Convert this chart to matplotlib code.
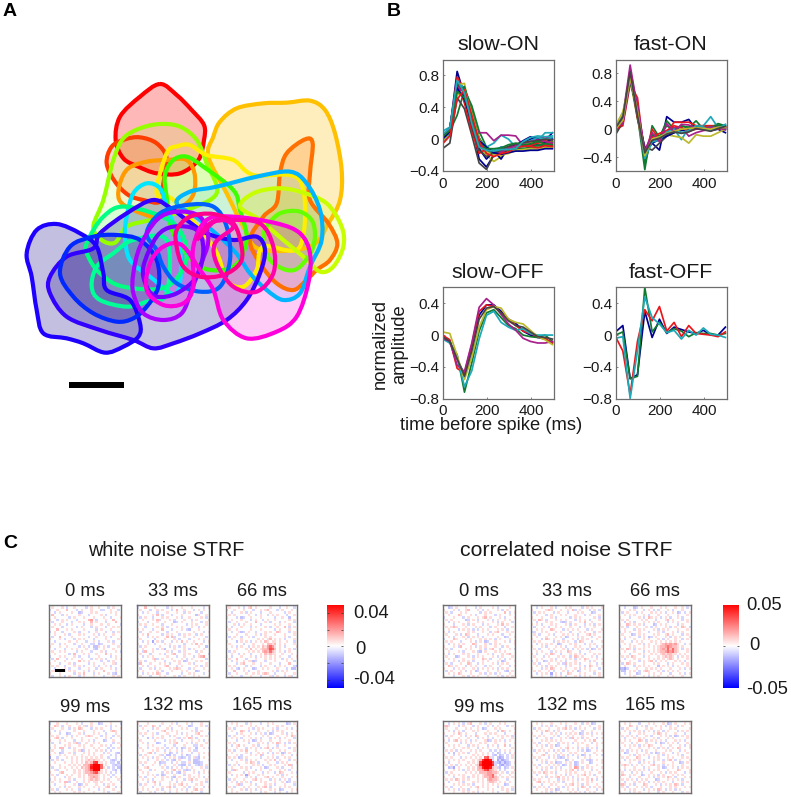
import matplotlib
matplotlib.use("Agg")
import numpy as np
import matplotlib.pyplot as plt
from matplotlib.path import Path
from matplotlib.patches import PathPatch, Rectangle
from matplotlib.colors import LinearSegmentedColormap, to_rgba

W, H = 791, 797
plt.rcParams['font.family'] = ['Liberation Sans', 'DejaVu Sans']

# receptive field outlines (3x pixel coords of the panel)
RF_COLORS = ['#ff0000', '#ff3c00', '#ffc000', '#ff7000', '#96ff00', '#ff9a00', '#ffee00', '#3cff00',
             '#c8ff00', '#64ff00', '#00b4ff', '#00e6ff', '#00ff82', '#00ff96', '#3200ff', '#1e00ff',
             '#0028ff', '#0060ff', '#aa00ff', '#7800ff', '#ff00dc', '#ff008c', '#ff00aa']
RF_FILLS = [.28, .2, .26, .22, .13, .1, .08, .1,
            .2, .22, .13, .05, .1, .15, .26, .28,
            .32, .05, .12, .08, .2, .04, .04]
RF_DARK = [False] * 14 + [True, True, True] + [False] * 6
RF_0 = [(480, 72), (530, 105), (575, 150), (612, 195), (612, 240), (595, 300), (540, 340), (470, 340), (415, 320),
        (370, 295), (347, 240), (360, 170), (420, 110)]
RF_1 = [(420, 232), (470, 250), (500, 295), (490, 370), (480, 425), (430, 420), (385, 405), (345, 365), (320, 310),
        (335, 260), (375, 238)]
RF_2 = [(640, 230), (660, 185), (710, 145), (790, 130), (860, 128), (930, 122), (975, 150), (1005, 220), (1025, 330),
        (1020, 420), (985, 490), (930, 560), (780, 568), (730, 500), (680, 400), (625, 290)]
RF_3 = [(915, 238), (938, 250), (930, 340), (930, 420), (985, 490), (1012, 550), (990, 600), (950, 630), (920, 660),
        (880, 690), (830, 670), (780, 610), (750, 540), (790, 470), (830, 430), (840, 340), (860, 280)]
RF_4 = [(480, 192), (540, 200), (590, 240), (620, 310), (650, 400), (560, 450), (450, 480), (380, 500), (345, 548),
        (305, 540), (280, 500), (310, 420), (340, 300), (370, 235), (420, 205)]
RF_5 = [(440, 305), (500, 300), (560, 300), (585, 350), (570, 420), (480, 470), (400, 450), (358, 420), (360, 370),
        (385, 325)]
RF_6 = [(570, 255), (620, 285), (700, 300), (760, 345), (900, 362), (900, 560), (790, 560), (770, 630), (730, 680),
        (680, 660), (640, 560), (520, 420), (470, 400), (500, 280), (535, 258)]
RF_7 = [(560, 290), (610, 320), (700, 390), (720, 450), (740, 540), (700, 620), (600, 620), (520, 520), (500, 410),
        (495, 345), (520, 300)]
RF_8 = [(720, 440), (760, 400), (830, 385), (900, 395), (980, 430), (1025, 500), (1030, 560), (1000, 620), (960, 635),
        (910, 590), (850, 540), (780, 480)]
RF_9 = [(800, 500), (840, 460), (900, 455), (940, 490), (940, 560), (900, 620), (860, 630), (810, 600), (790, 540)]
RF_10 = [(530, 430), (570, 395), (650, 380), (770, 350), (870, 335), (920, 370), (960, 450), (965, 540), (930, 620),
         (900, 700), (850, 720), (800, 690), (750, 640), (700, 570), (600, 480)]
RF_11 = [(380, 470), (400, 400), (440, 370), (480, 385), (500, 440), (540, 560), (530, 700), (450, 650), (390, 600),
         (375, 530)]
RF_12 = [(260, 550), (310, 470), (380, 440), (520, 490), (560, 590), (500, 680), (370, 680), (300, 640), (265, 590)]
RF_13 = [(275, 680), (290, 620), (340, 580), (400, 540), (500, 540), (500, 700), (440, 725), (380, 740), (300, 720)]
RF_14 = [(150, 650), (200, 590), (280, 565), (300, 520), (380, 460), (460, 420), (520, 450), (560, 480), (620, 520),
         (700, 540), (770, 530), (795, 570), (780, 640), (740, 720), (680, 780), (600, 820), (520, 850), (460, 865),
         (400, 840), (300, 810), (200, 770), (150, 700)]
RF_15 = [(80, 580), (110, 510), (170, 492), (240, 520), (290, 560), (310, 640), (320, 690), (390, 720), (420, 790),
         (415, 830), (370, 860), (315, 878), (250, 850), (200, 835), (130, 820), (110, 750), (95, 650)]
RF_16 = [(180, 640), (210, 560), (280, 530), (350, 525), (420, 540), (470, 600), (475, 680), (440, 740), (400, 775),
         (350, 785), (280, 760), (220, 710)]
RF_17 = [(440, 520), (480, 460), (560, 435), (640, 440), (680, 500), (690, 600), (660, 680), (600, 695), (530, 670),
         (490, 620), (470, 570)]
RF_18 = [(400, 640), (420, 560), (470, 480), (530, 455), (600, 470), (625, 540), (600, 620), (575, 690), (545, 760),
         (490, 780), (430, 760), (400, 700)]
RF_19 = [(430, 620), (470, 530), (520, 500), (590, 510), (610, 570), (590, 650), (530, 700), (470, 710), (440, 680)]
RF_20 = [(450, 610), (490, 560), (545, 555), (600, 630), (640, 690), (670, 780), (740, 835), (830, 815), (890, 770),
         (925, 670), (930, 580), (900, 520), (830, 490), (700, 470), (620, 480), (580, 560), (580, 680), (550, 730),
         (490, 735), (440, 690)]
RF_21 = [(530, 560), (530, 510), (570, 470), (640, 462), (700, 490), (725, 560), (720, 610), (670, 645), (600, 650),
         (550, 620)]
RF_22 = [(590, 540), (630, 490), (690, 480), (780, 490), (820, 560), (820, 640), (770, 695), (700, 680), (650, 610),
         (645, 550), (700, 500), (650, 480)]
RF_OUTLINES = [RF_0, RF_1, RF_2, RF_3, RF_4, RF_5, RF_6, RF_7, RF_8, RF_9, RF_10, RF_11,
               RF_12, RF_13, RF_14, RF_15, RF_16, RF_17, RF_18, RF_19, RF_20, RF_21, RF_22]

# temporal filters, one value per 33 ms frame
TIME = [0, 33, 66, 99, 132, 165, 198, 231, 264, 297, 330, 363, 396, 429, 462, 495]
LINE_COLORS = ['#00008f', '#107a30', '#e8171c', '#1ea8b8', '#a8208c', '#bcb92c', '#444444']

SLOW_ON = [
    [.03, .12, .85, .55, .2, -.25, -.35, -.2, -.1, -.12, -.1, -.05, .0, .02, -.02, .08],
    [-.02, .1, .3, .62, .42, .1, -.1, -.15, -.16, -.14, -.12, -.12, -.12, -.1, -.1, -.08],
    [.02, .12, .78, .6, .25, -.05, -.15, -.2, -.18, -.15, -.1, -.08, -.07, -.05, -.04, -.03],
    [.1, .15, .7, .65, .3, .0, -.1, -.05, .05, .0, -.1, -.1, -.05, -.02, .08, .08],
    [.05, .12, .6, .65, .2, .08, .08, -.02, .05, .05, .04, -.08, -.05, .0, .03, .0],
    [.0, .1, .68, .7, .18, -.1, -.2, -.28, -.22, -.15, -.1, -.07, -.04, -.02, -.01, -.02],
    [-.12, -.05, .52, .38, .05, -.3, -.38, -.2, -.15, -.12, -.1, -.08, -.08, -.07, -.08, -.1],
    [.04, .14, .72, .5, .12, -.12, -.25, -.15, -.25, -.1, -.08, -.02, .03, .0, -.04, .0],
    [.0, .08, .58, .66, .36, .02, -.14, -.18, -.15, -.14, -.13, -.12, -.1, -.08, -.06, -.04],
    [.02, .1, .75, .45, .1, -.18, -.12, -.16, -.12, -.1, -.1, -.06, -.08, -.04, -.02, -.06],
    [-.05, .06, .62, .58, .28, -.04, -.12, -.14, -.1, -.12, -.1, -.05, -.02, .02, .0, .02],
    [.05, .13, .66, .56, .22, -.08, -.16, -.2, -.16, -.12, -.08, -.05, -.03, -.01, -.03, -.05],
    [-.03, .09, .55, .62, .32, .0, -.16, -.2, -.2, -.18, -.14, -.13, -.12, -.13, -.1, -.11],
    [.01, .11, .7, .6, .16, -.14, -.22, -.17, -.13, -.09, -.06, -.04, -.03, -.02, .0, -.01],
    [.0, .09, .64, .5, .24, -.02, -.1, -.17, -.19, -.17, -.15, -.15, -.14, -.14, -.12, -.12],
    [.03, .11, .6, .52, .26, -.06, -.12, -.12, -.11, -.07, -.05, -.07, -.06, -.03, -.06, -.07],
    [-.06, .04, .5, .62, .3, -.03, -.18, -.22, -.18, -.16, -.11, -.09, -.09, -.11, -.08, -.09],
    [.06, .14, .74, .58, .2, -.1, -.14, -.15, -.13, -.13, -.12, -.03, .02, .04, .03, .04],
]
FAST_ON = [
    [.0, .1, .85, .3, -.35, -.2, -.3, .18, .1, .1, .14, .0, .02, -.02, .0, -.05],
    [-.03, .15, .75, .2, -.58, .05, -.12, .12, .0, .05, .02, .12, .0, .02, .08, .05],
    [.0, .05, .65, .45, -.4, .0, -.15, -.05, .1, .1, .1, .05, .05, .05, .05, .03],
    [.05, .2, .8, .2, -.45, -.15, -.1, -.1, .0, -.15, .02, .03, .05, .18, .02, .07],
    [.0, .18, .92, .3, -.3, -.1, -.12, -.02, .02, .03, -.1, -.05, -.02, .0, .05, .02],
    [.05, .25, .7, .15, -.35, -.15, -.15, -.08, -.1, -.12, -.2, -.08, -.1, -.1, -.05, .0],
    [-.08, .1, .78, .15, -.25, -.3, -.2, -.1, -.05, .0, .02, .03, .02, .0, .02, .0],
    [.02, .12, .72, .25, -.3, -.2, -.15, -.1, -.05, -.02, .0, .02, .03, .02, .04, .01],
    [.03, .14, .68, .28, -.5, -.08, -.1, .05, -.02, .04, .03, .04, .02, .03, .06, .04],
    [-.02, .1, .8, .18, -.4, -.12, -.06, -.02, .05, .02, -.03, .0, .04, .01, .0, .03],
    [.01, .16, .76, .22, -.42, -.18, -.16, -.04, .0, -.05, -.02, .05, .03, -.02, .02, .06],
    [.04, .08, .7, .35, -.32, -.05, -.18, .08, -.04, .07, .06, .01, .0, .03, .02, -.01],
    [.0, .13, .74, .26, -.38, -.14, -.11, -.06, -.03, .0, .01, .02, .01, .0, .03, .02],
    [.02, .17, .82, .2, -.34, -.16, -.13, -.07, -.04, -.06, -.04, .01, -.01, -.03, .01, .04],
]
SLOW_OFF = [
    [-.03, -.08, -.3, -.5, -.15, .25, .38, .38, .3, .2, .15, .05, .0, -.03, -.05, -.1],
    [-.02, -.1, -.25, -.72, -.35, .05, .28, .32, .22, .12, .08, .0, -.02, -.03, .0, -.08],
    [.0, -.06, -.42, -.48, -.12, .3, .38, .36, .28, .2, .12, .05, .02, -.02, -.04, -.1],
    [-.05, -.1, -.28, -.65, -.45, -.05, .25, .3, .16, .1, .06, .08, .02, .0, .0, .0],
    [-.04, -.08, -.38, -.46, -.1, .35, .46, .38, .26, .14, .06, -.04, -.08, -.1, -.1, -.08],
    [.04, .02, -.26, -.56, -.28, .1, .32, .36, .34, .2, .16, .14, .06, -.02, -.06, -.12],
    [-.02, -.08, -.3, -.52, -.2, .2, .34, .36, .28, .18, .12, .1, .04, -.02, -.03, -.05],
]
FAST_OFF = [
    [.04, .12, -.55, -.5, .3, -.03, .2, .02, .1, .07, .04, .02, .06, .0, .0, .1],
    [.0, .04, -.55, -.52, .6, .04, .16, .03, .08, .05, -.02, .03, .02, .02, .0, .02],
    [-.02, -.2, -.75, -.08, .32, .18, .36, .05, .16, -.02, .12, .02, .01, .0, -.02, .04],
    [-.04, -.02, -.8, -.2, .48, .22, .14, .03, .06, -.05, .06, .0, .09, .01, .0, -.03],
]

# spatiotemporal filters, one character per stimulus cell, read by eye
CELL_VALUES = {'.': 0, 'r': .14, 'R': .26, 'P': .38, 'b': -.16, 'B': -.24, 'D': -.34}
WN_0 = ['..r..b..r...b..rr...b..r...R..',
        '.r...r.b..r....b.r..r...b.r...',
        'b..r...R...b.r...r...bb..r..b.',
        '..b.r....r..Bb...r.r.....r.r..',
        '.R...b.r....r...b....r.b...r..',
        '..r.....b.r...r...r...r..b...r',
        'r..b.r.r...b....RP.b...r..R...',
        '.b...r...b..r.r..R.r...b...R..',
        '..r.r..b.r....b..r...r..r....b',
        '.r...b.....b.r...b.r...b..r.r.',
        '...R...r.r....r....b.r...r....',
        'b.r..b....r.b...b..r...b..b.r.',
        '..r...r.b...r.r...r.b.r...r...',
        '.b..R....r......b..r...r.b...r',
        'r...r.b...b.r.r...b....r....r.',
        '..b.....r..r...b..r.b...r.b...',
        '.r..b.r...b..r...bb.Bb....r..b',
        'r...r..r....b.r.b.BBr.r.b...r.',
        '..b...b..r.r...r..bB..r...r...',
        '.r..r.r....b.r...b...r.b...r.b',
        '..r.....b.R...r.r..r...R.r....',
        'b...r.r...r.b...b...r....b.r..',
        '.b.R...b.r...r...b.r.r.b...r.r',
        '..r...r.....R.r.r....b..b.r...',
        'r...b...r.b.....b.r...r...rb..',
        '.r.r..b...r.r.b...r.b..r.b...r',
        '..b...r.b...b...r..b.r...r.b..',
        '.rr...b.r.r...r.b.r...R....r..',
        'r...r.....b.r.R...b.r...r.bB..',
        '.b..r.b.r...b.r...r...b...r.r.']
WN_33 = ['.r..r...b.r...R...b.r..b..r...',
         'b..R...r....b.r...r...r....b.r',
         '.r...b..r.r...b.R..r...b.r.r..',
         '..b.r...b...r...r..b.r....b...',
         'r.....r.R.b...b...r.....Br..r.',
         '.b.r..b...r.r...r.b..r....r.b.',
         '..r...r.Rb...r.b...r..b.r....r',
         'b...b...r..r...Bb.r...r...b.r.',
         '.r.r..r...b...r.....b.r.r...r.',
         '...b....r.r.b...r.r...r..b.r..',
         'r.r...b...R...b...r.bB...r....',
         '.b...r..r...b...r......r...b.r',
         '..r.R.....b.r.r..b.r.r..b.r...',
         'r...b.r.r...R.Rb...r...r....b.',
         '.r.....b...r...r.b...b...r.r..',
         '..b.r.D.r.b...b.r.R.r..r...b.r',
         'r...r..b...r.r.....b..r.R.r...',
         '.b.r.....r...b.r.b.r.....r..B.',
         '..r...r.b.rB...r...r.b.r...r..',
         'r.bR..r.....r.b..b.r....b.r...',
         '.r...b...r.b..rR...r.r...r...b',
         '..b.r.r.....r...b..r...b.rRP..',
         'r.....rRb.r...r...r.b.r.....b.',
         '.r.b...r...b...r.r.Bb...r.r...',
         'bR...r...r.r.b...r...r.b....r.',
         '..r.b..r...rR...b.r.....r.b.r.',
         '.b...r.b.r...r.rRr...b.r...r..',
         'r.r.....r.b...r...r.r...Bb...r',
         '..b.r.r.Rr..b.....b..r.r...b..',
         '.r...b...r.r...r.b.r...r.r...r']
WN_66 = ['...r.b...r...b..r...b.r....r..',
         '.r...r.b.rR.r.....r...b..r..b.',
         'b..r...r...b..r.rR...b.r...r..',
         '..b...r.b.r...b...r.....b.r...',
         '.r.r.....r..b.r..b.r.r...b..r.',
         'r...b.Bb..r...r.....b..r..B...',
         '..r...r...b.r..b.r..r.....r.r.',
         '.b..r...r...R...r.b...b.r...b.',
         '...r.b.r..r...b.....r.r...r...',
         'r.b...r...b.r...r.b..r..R.b.r.',
         '.r..r.....r...r.....b.r...r...',
         '..b..rBb.r..b...r.r..Rr...b.r.',
         'r...r...r...r.b.r...r...r...r.',
         '.b.r..b..r.b....r.r.....r.b...',
         '..r...r......r.r.rR.r.r.b...r.',
         'b...B.r.r.b.r.r.Rr.rr.r..r..b.',
         '.r.....b...r...r.RRrR.r.r...r.',
         '..r.b.r..b.r.r.RrPRPr.r.b....r',
         'r...r...r.R.r.rRRPPRR.r...r.b.',
         '.b.r.....r.r.r.RPRPRr.r.b.r...',
         '..r..b.r..b...r.RrRrr..r...r.',
         'r.b...r...r.b.r.r.r.r.r...b..r',
         '.r..R...b...r...r.r.r..b.r.r..',
         '..b.r..r.rrBb...b...r....r..b.',
         'r...b.rR...r..r...r...b...R...',
         '.r.r....b.r...b.r...b.r.r...bB',
         '..r.bB.r...Bb..r.r...r...b.BB.',
         'r..R...r.b...r.....r.b.r.r....',
         '.b..r...r..r.r.rRr..b...r...r.',
         '..r...b...r...b...rb.r..b.rb..']
WN_99 = ['.r..r...rRr..b..r.b...r...r.r.',
         'b..r...r...r.b...r..Bb...r...b',
         '..Rr.b..r...r.rb.r.....r.b.r..',
         '.r...r..b.r.Rr...b.r.r...b...r',
         '..b.r.....r...r...r...b..rRr..',
         'r...b..Bb...r.b...r.r..b...r..',
         '.r.r...r.b.r...rRr...b.r..b.r.',
         '..rR.b...r...r.....r...r.b...r',
         'r...r.r...b..r..r.b...Bb..r...',
         '.b..b...r.rRb..r..r.r.....b.r.',
         '..r...r.r...r.r..r...r.r.b...r',
         'b.r.RR..b.r...r...r.r...b.b.r.',
         '.r...b....r.rBb.r..r.r.b.b....',
         '..r.Bb..r.b...r.r.r...b.r..bB.',
         'r...r.r...r..r..r.r..r...b.b.r',
         'D..b...r.r.r.r.r.r.r.r..b..b..',
         '.b.r.b...r.r.r.rRrRrr.r..bBb.b',
         '..r...r..r.r.r.RrRPRrr.r.bb.B.',
         'r...r...r.r.r.RRPPPPRr.r..bBbb',
         '.b..r.r..r.r.RrRPPPPPRr.b.b.BB',
         '..rb...r..r.r.rRPPPPRr.r..bB.B',
         'r...rR....r.r.rRRPPRRr.r.b.b.b',
         '.r.b...r.r..r.r.RRRRr.r.r.b...',
         '..r...b.r...r.r.rRPRr.r..b.r.r',
         'b.r.r...r.b...r.rRrRr.r.r...r.',
         '.r..r.RRb..r..r.r.rr.r...r...b',
         '..b...r...r.Bb.r...r..b.r.r...',
         'r...r.b.r...r.r...r.r..rR..b.r',
         '.r.b...r.r..b...r...b.r...r...',
         '..r.r.....r.r.r...r...r.b...r.']
WN_132 = ['..r...b.r...r.b...r..r..b.r.r.',
          'r...r.....r...r.b...r.b...r...',
          '.b.r..Rr.b...r...r...Bb...r.b.',
          '..r...b.r...r.b...r.r...b....r',
          'r...b.....rR..r.r.....r.b.r...',
          '.r.r..r.b...r...r.b.r...rR...b',
          '..b...r...r..b.r....r.b...r.r.',
          'r...B.b.r.r.....rb.r.Rr.b.....',
          '.r.....r...b.r.r..b...r..r.b.r',
          '..r.b...Bb...r.rR...r.b.r...r.',
          'b...r.r....b...b...r...bb.r...',
          '.r..b...r.r.b.r.b.Bb.r..B..r.b',
          '..r...r.r..b.r..r.b..r.bb.....',
          'r...rR.b...r.Bb.b.r...b..r.r.r',
          '.b.r.....rb.BB.b..b.Bb...b...r',
          '..r.r.b.r..b.r.r.bBb.b.rbB.r..',
          'r...b...r.r.b.bB.r...b.BBb...r',
          '.r.r...r.Bbb..b.r.bb.r.BBBb...',
          '..b...r..b.r...r.bBB.b..bBb.r.',
          'r..rR.....r.b.b.r.b.r.r...r.b.',
          '.r...b.r...r..rR.r.bBb.r...r..',
          '..r.r.....b.r.b.bB.r...r.b.r.r',
          'b...r.r.b.Bb...r...b.r...r....',
          '.r.b...r..r.r.bB.r...r.r.r.b.r',
          '..r.r.b...r...b.r..b.rR.r...r.',
          'r...b.rR.r...r..b.r...b...r.b.',
          '.b.r...r.b...r.r.rR.r...r.r...',
          '..r...b...r.rR.b...r.b.r...b.r',
          'r.r.r...r.b..r..r.r.b..rR.r...',
          '.b...r.b...r.b..r...r.r...b...']
WN_165 = ['.r...b.r...r..r.b...r.r..b.r..',
          '..r.r...b.r...b..r.r.....Bb.r.',
          'b...r.r...r.r....b...r.r.....r',
          '.r.b.....r.b.r.r...r.b...r.b..',
          '..r...Rr.b...r...r.b.r.r.....r',
          'r...b.r...r.b.r.b.Bb...r.b.r..',
          '.b.r...r.r.....r.r...r...r.Rr.',
          '..r.r.b...r.r.b...b.r.b.r...b.',
          'r...b..r.r.Bb.r...r...r...r...',
          '.r.r.....b...r.r.b.r.Rr.b.b.r.',
          '..b.rR.r...r.b...r...b..r....r',
          'r...r...b.r.r.b.rR.b.r....b.r.',
          '.r.b..r.R...r.....r...r.r...r.',
          '..r.....r.b..r.r.b.b.r.Bb.r...',
          'b...r.b...r.r.Rb...r...r...b.r',
          '.r.r.Bb.r.....b..r.r.b..r.r...',
          '..b...r.b.r.r...r.r.R.r...b.r.',
          'r...r...r.Rr.b...r...b.r.r...r',
          '.b.r.b.....r.r.b..r.r...r.Rb..',
          '..r...r.r.b...r.Bb...r.b...r..',
          'r.bRr...r...b.r...r...r.r.b...',
          '.r.....b.r.r...b.r..b.Rr...r.b',
          '..b.r.r.Dr...r.r.....r.b.r....',
          'r...r...b.r.b...rR.r...r...r.r',
          '.b.r...r...rR.r...b.r.b.r.b...',
          '..r.b.r.r.b...r.r...r..r.Bb.r.',
          'r...rRb...r.b...r.r.b...r...b.',
          '.r.b...r.r...r.rR.b...r.r.r...',
          '..r...r.b.r.b.r...r.r.Bb...r.r',
          'b.r.r.....r...b.r...b.r..b.r..']
CN_0 = ['.b.r...r..r.r.b...r.r..b.r...r',
        '..Bb.r...r...b.r....r.b....r..',
        'r...r.b..rR...r.b.r...r.b.r...',
        '.r.b...r.r.....b.r.r.....R.b.r',
        '..r...Rr...r.b...r...b.r...r..',
        'b...r...b.r...r.rR.r...r.b...r',
        '.r.r.....Bb.r.b...r.b.r..r.r..',
        '..b.r.r...r...r.r...r.b.r...b.',
        'r...b...r.b.r...b.r...r.R.r...',
        '.r.rRr...r...r.r...b.r...b..r.',
        '..r...b.r.r.b.b.r.r...r.r.b...',
        'r.b.r.....r.r...r..b.rR...r.r.',
        '.r...r.b.Rr...b...r.r...b..r..',
        '..r.b...r.b.r.r.b.....r..Bb..r',
        'b...Rr...r.r...r.r.r.b.r...r..',
        '.r.r...b...r.b.r.Bb..r...r.b.r',
        '..b.r.r.r...Rr...r.b.r.r.....r',
        'r...r.bR...r.b.r.r...r..b.r...',
        '.r.b.....r.r...r.b.rR..b...r.b',
        '..r...r.b...r.bB.r...r.r.r....',
        'r.b.r...r.r...r...r.b...r.rR..',
        '.r...Bb...r.b.r.r...r.b.r...r.',
        '..r.r...r...r...Rr.b...r.b.r..',
        'b...r.b.r.r.b...r.r...r.Bb...r',
        '.r.b...r..Rr..b.r...r.b.r.r...',
        '..Rr.r...b.r.r...b.r...r...b.r',
        'r...b.r.r...r.b.r.r.r.b.r.r...',
        '.b.r...r.b.r.Bb...r...r..bB.r.',
        '..r.r.Rr...r...r.b.r.b.r...r..',
        'r...b...r.b.r.r...r...r.b.r.r.']
CN_33 = ['.r...r.b.r...r.b...r.r..b..r..',
         '..b.r...r.b...r.r....b.r.r...r',
         'r.....rRr...r..r.Rb.r...b.r.b.',
         '.b.r.r...b.r...b...r.r...Bb...',
         '..r...b.r...r.r...r...b.r...r.',
         'r...r...r.b.....b.r.r.....r.b.',
         '.r.Rr.b...r.r.r...b.r.r.b...r.',
         '..b...r.r...bBb.r...r.R..r....',
         'r.r.b...r.r...r.b.r...b.r.b.r.',
         '.b...r.b..r.r...r...b.r...r...',
         '..r.r...Rr...b.r.r.r...b.r...r',
         'bb..r.r...r.r...b...r.r...b.r.',
         '.r.b...r.b...r.r.r.b...rR.r...',
         '..r...r...r.r.Bb...r.r...b..r.',
         'r...b.Rr.r...b...r.b.r.r...r..',
         '.r.r.....b.r.r.r..b.Rr...b...r',
         '..b.r.r.r..Bb...r.r...b.r.r...',
         'r...r.b...r.r.b...r.r...r..b.r',
         '.r.b...r.r...r.b.b.r.r.b.Bb.r.',
         '..r.r...b.r.r..Rr...b...r.....',
         'r.b...r.Rr..b...r.r.r.b...r.r.',
         '.r...b.r...r.r..b.Rr.r...r.b..',
         '..r.r...r.b...r.r.b.r.Rr...r.r',
         'b.r..Bb.r.r.r.b...r...r.b.r...',
         '.r.b...r...r.bR.r.r.b...r..b.r',
         '..r.r.b.r.r...b.r...r.b.Rr.r..',
         'r...b.r.Rr..r.r...r.b.r.r...b.',
         '.r.r...r.b...r.b.r.Bb...r.r...',
         '..b.r.r.D.r.b..Rr...r.r...b.r.',
         'r...r...b.r.r.b...r.b.r.r...r.']
CN_66 = ['.r.r...b.r.r...R.b.r...b.r...r',
         '..b...Bb.r...r...r.r...r..r.b.',
         'r...r.r...b.r.b.b...r.b...r...',
         '.b.r...b.r...r.r.r.b..r.Bb.b.r',
         '..r.r.r...r.b...r...r...r...r.',
         'r...b...r.b.Rr.r.b.r.b..r.b...',
         '.r.r.....r.r...b...rR.r...b.r.',
         '..b.r.b...r.r.r.r...b.r.r...r.',
         'r..Rr.r.r.b...Bb.r.r....b.r...',
         '.r.b...r...r.b.r...r.b.r..Rr.b',
         '..r...b.r.r...r.b.r.r...r...r.',
         'b.r.r...r...b...r.b...r.b.r...',
         '.r...Bb.r.r...r.r..rR.r...b.r.',
         '..r.r...b.r.Bb.r...r.b.r.r...r',
         'r.b...r...r.r...r.b.r..r..b.r.',
         '.r...b.r.r...r.r.r.r.r.r.r....',
         '..r.r...r.b.r..r.rRPRPRPr..b.r',
         'b...r.r...r.r.r.rRRPRPRRr.r...',
         '.r.Rr.b.r.r...r.rRPRPRPRr.b.r.',
         '..r...r...b.r.r.rRRPRPRRr...r.',
         'r...b...r.r..r.r.rRrRRrr.r.r..',
         '.r.r.Rr...b.r...r.rRrRr.b.r.r.',
         '..b...r.r...r.r.r.r.rRr.r...r.',
         'r...r...b.r.rR.b.r.r...r.r.b..',
         '.b.Rr.r...r...r.r...b.r...r.r.',
         '..r...b.r.r.r...B.r.r.b.r...r.',
         'BBDb...r...r.r.r.r...r...r.b.r',
         '.BB.r.r.b.rRr...r.b.r.r.r.....',
         '..b.r..Bb...r.r..r...b...r.b.r',
         'r...r.r...r.b.r.r...r.r...r...']
CN_99 = ['.r.r...r...b.r...r.Bb.r...b.r.',
         '..b.r.r.b.rR...r.b.r...r.r....',
         'rRr...b.r...b.r...r.b.r...b.r.',
         '.r...r...r.r..r.Bb...r.r.....r',
         '..r.b.r.b...r.r...r...b.Rr.r..',
         'r...r.Rr.r...b...r.r.r...b...r',
         '.b.r...r.b.r.Rr...b...r.r.r.b.',
         '..r...r...r...b.r.r.b...r...r.',
         'r.b.rR.r.r.b.r...rBb.r.r.b.r..',
         '.r.....b.r.r...r.r...r...r...r',
         '..r.r.r...b.r.r...b.r.b..R.b..',
         'b...r...r.r...b.r.r...r.....r.',
         '.r.r.b.r...r.r.r...b.b.b.r.r..',
         '..b.B.r.r.b..r..r.r.b.Bb.b.b.r',
         'r...b.r.....r.r.r.r.bB.Bb.b.r.',
         '.r.r...b.r.r.r.r.r.rb.BDB.b.r.',
         '..r.r.r.r...r.rRRRRRb.DbDBb...',
         'r.b...r...r.r.rRPPPPRbBDbDBb.r',
         '.r.r.b.r.r.r.rRPPPPPRb.BDbBb..',
         '..BbD.r...r.r.RPPPPPRrbB.Bb.r.',
         'r...r.r.b.r.r.RRPPPPRr.b.b...r',
         '.b.r.....r.r.r.RRRPPRRr.r.b.r.',
         '..r.r.r.r...r.r.rRPPRr.r...r..',
         'r...b...r.b.r.r.rRRPPRr.r.r.r.',
         '.r.r.Rr.r.r...r.r.RPRRr...b...',
         '..b...r.b...r.r.r.rRRr.r.r.r..',
         'r...r.r.r.r.b...r.r.r.r..Bb...',
         '.r.b...r...r.rR.r.r...b.r...r.',
         '..r.r.b.r.b...r...r.r...r.r.b.',
         'r...r...r.r.r.b.r...r.b...r...']
CN_132 = ['.r...r.b.r.r...b.r.r.....r.b.r',
          '..r.r...r...r.r...r..b.r.Bb...',
          'r...b.r.b.r...b.r...r...r...r.',
          '.b.r...r...r.rR.r.b.r.r...b.r.',
          '..r.r.Rr.b.r.....r...b...r....',
          'r...b...r.r.b.r.r.r.Bb.r.b.r.r',
          '.r.r.r...r.b...r.r...r...r....',
          '..b...r.b...r.r.bR.r.b.r...b.r',
          'r...r.r.r.r.r.....r...r.r.R...',
          '.r.b...r...b.r.r.b.r.r...b.r.r',
          '..r.r.b.r.Bb...r...r...r...r..',
          'r...r...r...r.rR.r.b.r.b.r.b..',
          '.b.r.r.r.b.r.b.r...r.b.Bb..r.r',
          '..r...b...r.r...r.r...r...r...',
          'r...rR.r.r.b.r.b.b.r.Bb.b..r.b',
          '.r.r...b.r.bBb.r...b..r.r.....',
          '..b.r.r...r...Bb.r...r.bBb.r.r',
          'r...r.b.r.Bbb.r.r.Bb.r..Bb...r',
          '.r.b...r.r.r.Bb.r.Bb...r...r..',
          '..r.r.r.b.r.b...r.PR.b.r.r...r',
          'r...b.r...r.r.r.rR.b.r...b.r..',
          '.r.r.Rr.r.b...r.r.r...r.r...r.',
          '..b...r...r.r.b.r..r.rR.r.b...',
          'r...r.b.r.rR.r.r.b.r...r...r.r',
          '.r.r...r...b.r.r.r.b.r.r.R.b..',
          '..rR.r.r.r.r.b...r.r...r.r...r',
          'r...b...r.r...r.rR.r.b.r...r..',
          '.b.r.r.b...r.b.r...r.Rr.b.r.r.',
          '..r...r.r.Bb...r.r.b...r...b.r',
          'r...r.r.b.r.r...r.r.r.b.r.r...']
CN_165 = ['.r.b...r.r.rR.r.b.r...r.r...b.',
          '..r.r...b...r.r...r.Bb.r...r.r',
          'r...Rr.r.r.b...r.r.b.r..b.r...',
          '.b.r...b...r.r...r...r.r.....r',
          '..r.r.r.r.b.r.b.r.b.r...b.r.r.',
          'r...b...r.r...r.Rr.r...r...b..',
          '.r.r.r.b...r.b...r.r.b.Bb.r.r.',
          '..b...r.r.r...r.b...r.r.....r.',
          'r.r.r...Rr.b.r.r.r.b...r.r.b..',
          '.r...b.r...r...b.Bb.r.r.b...r.',
          '..r.r.r.b.r.Rr...r...r...r.b.r',
          'b...r...r...r.r.b.r.b.r.Rr...r',
          '.r.b.r.r.b.r...r...r.r...b.r..',
          '..Bb...r...r.b.Bb.r...b.r...r.',
          'r...r.b.r.r.r...r.b.r...r.b...',
          '.r.r...Rr...b.r.r...r.r...r.r.',
          '..b.r.r.r.b...r.r.b.rR.b.r...r',
          'r...r...b.r.r.b...r...r..Bb.r.',
          '.rRr.b.r.r...rR.r.b.r.r...r...',
          '..r...r...b.r...r.Bb..r.b.r.r.',
          'r.b.r.r.r.r.b.r.r...r...Rr...r',
          '.r...b.r.b...r...r.b.r.r...b.r',
          '.Rr.r.r..Bb.r.r.b.r...r.r.r...',
          'r...b...r...r.b.r.r.Rr.b...r.r',
          '.r.r.r.b.r.r...Bb...r.r.r.b...',
          '..b...r.r.r.b.r.r.r...b...r.r.',
          'rRr.r.b...Rr...r.b.r.r.Rr.b...',
          '.r.b...r.r.r.b...r...r.r...r.r',
          '..r.r.r...b.r.r.Rr.b.r.b.r....',
          'r...b.r.r...r...b.r...r...b.r.']

# strongest cells, on top of the grids (row, col, value)
WN_66_CORE = [(17, 18, .6), (18, 18, .7), (18, 19, .6), (19, 18, .55)]
WN_99_CORE = [(17, 18, .7), (17, 19, .8), (18, 17, .8), (18, 18, 1), (18, 19, 1), (18, 20, 1), (18, 21, .6),
              (19, 17, .9), (19, 18, 1), (19, 19, 1), (19, 20, 1), (19, 21, .6), (20, 17, .7), (20, 18, 1),
              (20, 19, 1), (20, 20, 1), (21, 18, .6), (21, 19, .7)]
CN_66_CORE = [(17, 20, .55), (18, 20, .6), (18, 22, .6), (19, 20, .55), (19, 22, .55)]
CN_99_CORE = [(15, 17, .6), (15, 18, .7), (16, 16, .8), (16, 17, 1), (16, 18, 1), (16, 19, .9), (17, 15, .7),
              (17, 16, 1), (17, 17, 1), (17, 18, 1), (17, 19, 1), (17, 20, .7), (18, 15, .8), (18, 16, 1),
              (18, 17, 1), (18, 18, 1), (18, 19, 1), (18, 20, .8), (19, 16, .9), (19, 17, 1), (19, 18, 1),
              (19, 19, .9), (20, 17, .7), (20, 18, .8), (22, 20, .6), (23, 20, .55)]

MS_LABELS = ['0 ms', '33 ms', '66 ms', '99 ms', '132 ms', '165 ms']
WN_FRAMES = [WN_0, WN_33, WN_66, WN_99, WN_132, WN_165]
CN_FRAMES = [CN_0, CN_33, CN_66, CN_99, CN_132, CN_165]
CORES = {(0, 2): WN_66_CORE, (0, 3): WN_99_CORE, (1, 2): CN_66_CORE, (1, 3): CN_99_CORE}

GRAY = '#6e6e6e'
TEXT = '#1a1a1a'
bwr = LinearSegmentedColormap.from_list('bwr2', ['#0000ff', '#ffffff', '#ff0000'])

fig = plt.figure(figsize=(W / 100, H / 100), dpi=100)


def px_axes(x0, y0, x1, y1):
    # axes from picture pixels (y down)
    return fig.add_axes([x0 / W, 1 - y1 / H, (x1 - x0) / W, (y1 - y0) / H])


def px_text(x, y, s, **kw):
    kw.setdefault('ha', 'center')
    kw.setdefault('va', 'center')
    kw.setdefault('color', TEXT)
    fig.text(x / W, 1 - y / H, s, **kw)


def closed_curve(points):
    # catmull-rom through the read points, as bezier segments
    p = np.array(points, dtype=float)
    n = len(p)
    verts = [p[0]]
    codes = [Path.MOVETO]
    for i in range(n):
        p0, p1, p2, p3 = p[i - 1], p[i], p[(i + 1) % n], p[(i + 2) % n]
        verts += [p1 + (p2 - p0) / 6, p2 - (p3 - p1) / 6, p2]
        codes += [Path.CURVE4] * 3
    return Path(verts, codes)


# A: receptive field outlines
ax = px_axes(0, 60, 360, 400)
ax.set_xlim(0, 1080)
ax.set_ylim(1020, 0)
ax.axis('off')
for pts, col, a, dark in zip(RF_OUTLINES, RF_COLORS, RF_FILLS, RF_DARK):
    face = '#2a1a90' if dark else col
    ax.add_patch(PathPatch(closed_curve(pts), facecolor=to_rgba(face, a), edgecolor='none'))
for pts, col in zip(RF_OUTLINES, RF_COLORS):
    ax.add_patch(PathPatch(closed_curve(pts), facecolor='none', edgecolor=col, lw=3.0))
ax.add_patch(Rectangle((208, 965), 163, 20, color='black', lw=0))

px_text(10, 11, 'A', fontsize=14, fontweight='bold', color='black')
px_text(394, 11, 'B', fontsize=14, fontweight='bold', color='black')
px_text(10, 543, 'C', fontsize=14, fontweight='bold', color='black')


# B: temporal filters
def filter_panel(box, lines, ylim, yticks, ylabels, title, title_y):
    a = px_axes(*box)
    for i, v in enumerate(lines):
        a.plot(TIME, v, color=LINE_COLORS[i % len(LINE_COLORS)], lw=1.25)
    a.set_xlim(0, 500)
    a.set_ylim(*ylim)
    a.set_xticks([0, 200, 400])
    a.set_yticks(yticks, ylabels)
    a.tick_params(direction='in', length=1.5, width=0.6, color=GRAY, labelsize=11, labelcolor=TEXT)
    a.tick_params(axis='x', pad=4)
    a.tick_params(axis='y', pad=2.5)
    for s in a.spines.values():
        s.set_color(GRAY)
        s.set_linewidth(0.9)
    px_text((box[0] + box[2]) / 2, title_y, title, fontsize=15.4)
    return a


filter_panel((442.5, 59.5, 553.5, 171), SLOW_ON, (-.4, 1), [-.4, 0, .4, .8], ['\u22120.4', '0', '0.4', '0.8'], 'slow-ON', 44)
filter_panel((615.5, 59.5, 726.5, 171), FAST_ON, (-.6, 1), [-.4, 0, .4, .8], ['\u22120.4', '0', '0.4', '0.8'], 'fast-ON', 44)
filter_panel((442.5, 287.5, 553.5, 398.5), SLOW_OFF, (-.8, .6), [-.8, -.4, 0, .4], ['\u22120.8', '\u22120.4', '0', '0.4'], 'slow-OFF', 272)
filter_panel((615.5, 287.5, 726.5, 398.5), FAST_OFF, (-.8, .6), [-.8, -.4, 0, .4], ['\u22120.8', '\u22120.4', '0', '0.4'], 'fast-OFF', 272)
px_text(390, 344, 'normalized\namplitude', rotation=90, fontsize=13.2, linespacing=1.2)
px_text(491, 426, 'time before spike (ms)', fontsize=13.2)


# C: spatiotemporal filters
def strf_panel(box, rows, core):
    grid = np.array([[CELL_VALUES[ch] for ch in row[:30].ljust(30, '.')] for row in rows], dtype=float)
    for r, c, v in core:
        grid[r, c] = v
    a = px_axes(*box)
    a.imshow(grid, cmap=bwr, vmin=-1, vmax=1, interpolation='nearest', aspect='auto')
    a.set_xticks([])
    a.set_yticks([])
    for s in a.spines.values():
        s.set_color(GRAY)
        s.set_linewidth(1.0)
    return a


def colorbar(box, ticks):
    a = px_axes(*box)
    a.imshow(np.linspace(1, -1, 128)[:, None], cmap=bwr, vmin=-1, vmax=1, aspect='auto',
             extent=[0, 1, -1, 1])
    a.set_xticks([])
    a.set_yticks(ticks, [''] * len(ticks))
    a.tick_params(axis='y', direction='in', length=1.2, width=0.5, color='#333333', left=True, right=True)
    for s in a.spines.values():
        s.set_visible(False)


XS_WN = [(48.7, 121), (137, 209.3), (225.7, 297.3)]
XS_CN = [(442.7, 514.7), (531, 603), (619, 691)]
YS = [(604.7, 677), (720.7, 792.7)]
TITLE_Y = [[592, 592, 592], [707, 705, 705]]
for k, (xs, frames) in enumerate(((XS_WN, WN_FRAMES), (XS_CN, CN_FRAMES))):
    for i in range(6):
        x0, x1 = xs[i % 3]
        y0, y1 = YS[i // 3]
        strf_panel((x0, y0, x1, y1), frames[i], CORES.get((k, i), []))
        px_text((x0 + x1) / 2, TITLE_Y[i // 3][i % 3], MS_LABELS[i], fontsize=13.2)

# scale bar in the first white noise frame
fig.add_artist(Rectangle((55 / W, 1 - 671.5 / H), 10 / W, 2.8 / H, color='black', lw=0, transform=fig.transFigure))

colorbar((326.7, 604.7, 343.3, 688), [-.8, -.4, 0, .4, .8])
colorbar((723.3, 604.7, 739.3, 688), [0])
px_text(353, 614, '0.04', fontsize=13.2, ha='left')
px_text(355, 649, '0', fontsize=13.2, ha='left')
px_text(353, 680, '-0.04', fontsize=13.2, ha='left')
px_text(746, 606, '0.05', fontsize=13.2, ha='left')
px_text(749, 645, '0', fontsize=13.2, ha='left')
px_text(746, 689, '-0.05', fontsize=13.2, ha='left')

px_text(166, 550, 'white noise STRF', fontsize=14.2)
px_text(566, 550, 'correlated noise STRF', fontsize=15.3)

fig.savefig('out.png', dpi=100)
